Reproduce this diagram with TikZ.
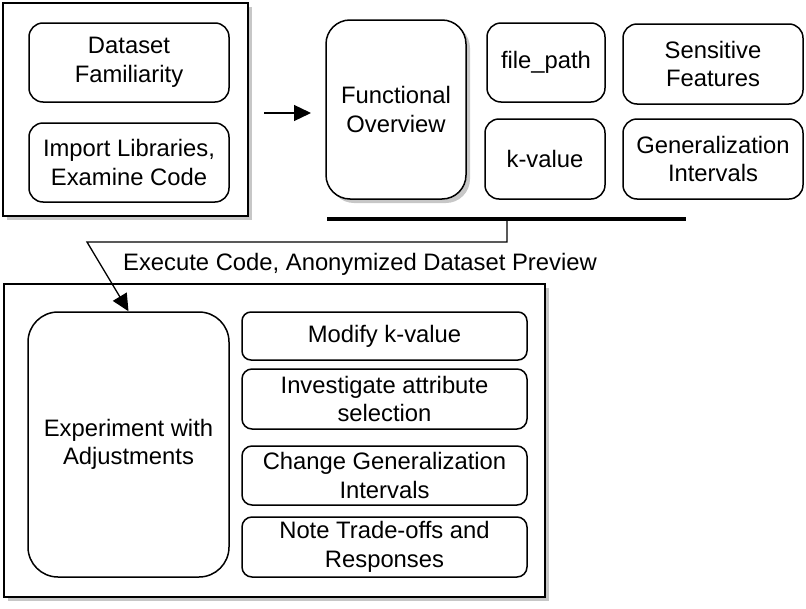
\documentclass[tikz,border=0pt]{standalone}
\usepackage{fontspec}
\setmainfont{Liberation Sans}
\usetikzlibrary{arrows.meta,shadows}
\begin{document}
\begin{tikzpicture}[x=1pt,y=-1pt,
  font=\fontsize{23.8}{28.5}\selectfont,
  shad/.style={drop shadow={shadow xshift=4pt,shadow yshift=-4pt,fill=black!22,opacity=1}},
  outerbox/.style={draw,line width=1.8pt,fill=white,shad,inner sep=0pt},
  rbox/.style={draw,line width=1.5pt,fill=white,align=center,inner sep=0pt},
  conn/.style={line width=1.3pt,-{Triangle[length=17pt,width=16pt]}}]
\useasboundingbox (0,0) rectangle (806,608);
% outer boxes
\node[outerbox,minimum width=245pt,minimum height=213pt] (o1) at (125.5,109.5) {};
\node[outerbox,minimum width=541pt,minimum height=313pt] (o2) at (274.5,440.5) {};
% top-left group
\node[rbox,rounded corners=14pt,minimum width=200pt,minimum height=79pt] (df) at (129,62.5) {Dataset\\Familiarity};
\node[rbox,rounded corners=14pt,minimum width=200pt,minimum height=79pt] (il) at (129,162.5) {Import Libraries,\\Examine Code};
% top-right group
\node[rbox,shad,rounded corners=24pt,minimum width=140pt,minimum height=179pt] (fo) at (396,109.5) {Functional\\Overview};
\node[rbox,rounded corners=14pt,minimum width=118pt,minimum height=79pt] (fp) at (546,62.5) {file\_path};
\node[rbox,rounded corners=14pt,minimum width=120pt,minimum height=80pt] (kv) at (545,159) {k-value};
\node[rbox,rounded corners=14pt,minimum width=180pt,minimum height=80pt] (sf) at (713,64) {Sensitive\\Features};
\node[rbox,rounded corners=14pt,minimum width=180pt,minimum height=80pt] (gi) at (713,159) {Generalization\\Intervals};
% thick bar
\coordinate (b1) at (327,219);
\coordinate (b2) at (686,219);
\coordinate (bm) at (507,219);
\draw[line width=3.5pt] (b1) -- (b2);
% arrow between groups
\coordinate (a1) at (264,113);
\coordinate (a2) at (311,113);
\draw[conn] (a1) -- (a2);
% bottom group
\node[rbox,rounded corners=30pt,minimum width=201pt,minimum height=265pt] (ex) at (128.5,444.5) {Experiment with\\Adjustments};
\node[rbox,rounded corners=9pt,minimum width=285pt,minimum height=48pt] (mk) at (384.5,336) {Modify k-value};
\node[rbox,rounded corners=10pt,minimum width=285pt,minimum height=60pt] (ia) at (384.5,399) {Investigate attribute\\selection};
\node[rbox,rounded corners=10pt,minimum width=285pt,minimum height=59pt] (cg) at (384.5,475.5) {Change Generalization\\Intervals};
\node[rbox,rounded corners=10pt,minimum width=285pt,minimum height=60pt] (nt) at (384.5,547) {Note Trade-offs and\\Responses};
% connector
\coordinate (c1) at (507,242);
\coordinate (c2) at (87,242);
\draw[conn] (bm) -- (c1) -- (c2) -- (ex.north);
\node[anchor=base west,inner sep=0pt] (lbl) at (123,270) {Execute Code, Anonymized Dataset Preview};
\end{tikzpicture}
\end{document}
